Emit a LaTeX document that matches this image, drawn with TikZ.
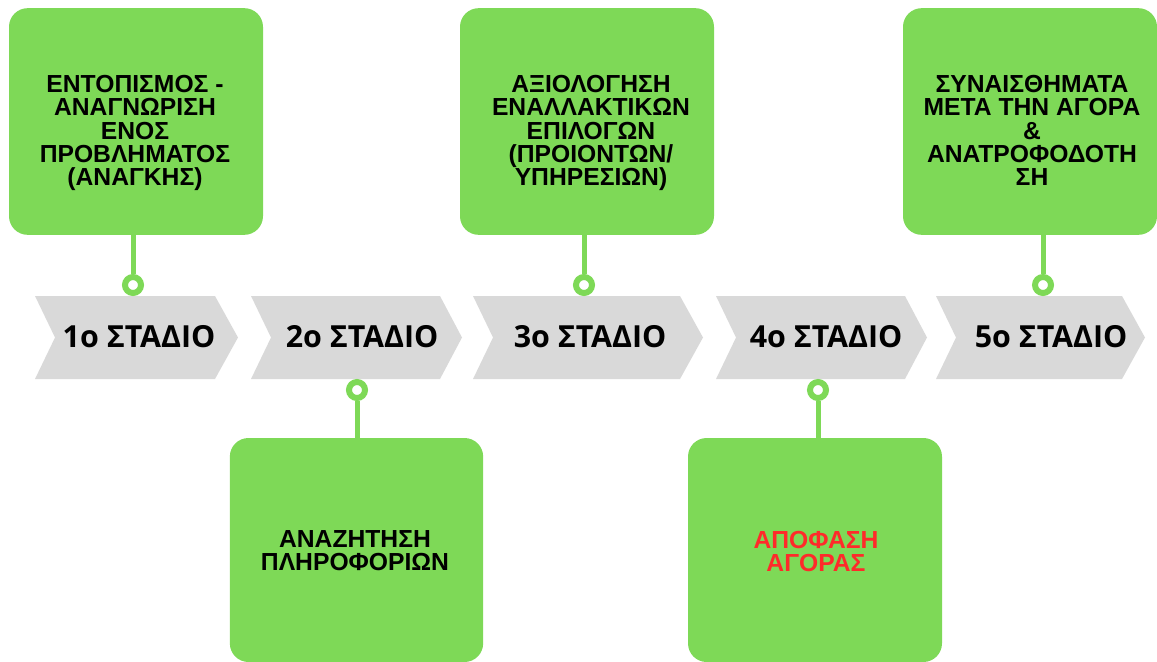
\documentclass[tikz,border=0pt]{standalone}
\usepackage{fontspec}
\setmainfont{Liberation Sans}
\newfontfamily\stagefont{Open Sans}

\definecolor{stagegreen}{HTML}{7ED957}
\definecolor{stagegray}{HTML}{D9D9D9}
\definecolor{stagered}{HTML}{FF2A2A}

\tikzset{
  card/.style={fill=stagegreen, rounded corners=14pt, minimum width=190.5pt, minimum height=170pt, inner sep=0pt},
  cardtext/.style={anchor=north, align=center, inner sep=0.75pt, font=\bfseries\fontsize{18.5}{17.5}\selectfont},
  ring/.style={circle, draw=stagegreen, line width=4.5pt, fill=white, minimum size=12pt, inner sep=0pt},
  stem/.style={draw=stagegreen, line width=3.75pt},
  chevtext/.style={anchor=base, inner sep=0.75pt, font=\stagefont\bfseries\fontsize{22.8}{22.8}\selectfont}
}

\begin{document}
\begin{tikzpicture}[x=0.75pt,y=0.75pt,yscale=-1,xscale=1]
        \useasboundingbox (0,0) rectangle (1157,661);

        %Shape: Chevron [id:stage1]
        \fill[stagegray] (35,296) -- (215,296) -- (238,337.5) -- (215,379) -- (35,379) -- (55,337.5) -- cycle ;
        %Shape: Chevron [id:stage2]
        \fill[stagegray] (251,296) -- (440,296) -- (462,337.5) -- (440,379) -- (251,379) -- (271,337.5) -- cycle ;
        %Shape: Chevron [id:stage3]
        \fill[stagegray] (473,296) -- (680,296) -- (703,337.5) -- (680,379) -- (473,379) -- (493,337.5) -- cycle ;
        %Shape: Chevron [id:stage4]
        \fill[stagegray] (716,296) -- (905,296) -- (927,337.5) -- (905,379) -- (716,379) -- (736,337.5) -- cycle ;
        %Shape: Chevron [id:stage5]
        \fill[stagegray] (936,296) -- (1122,296) -- (1145,337.5) -- (1122,379) -- (936,379) -- (956,337.5) -- cycle ;

        % Text Node
        \node[chevtext] (s1) at (139,347) {1ο ΣΤΑΔΙΟ};
        % Text Node
        \node[chevtext] (s2) at (362,347) {2ο ΣΤΑΔΙΟ};
        % Text Node
        \node[chevtext] (s3) at (590,347) {3ο ΣΤΑΔΙΟ};
        % Text Node
        \node[chevtext] (s4) at (826,347) {4ο ΣΤΑΔΙΟ};
        % Text Node
        \node[chevtext] (s5) at (1051,347) {5ο ΣΤΑΔΙΟ};

        %Shape: Rounded Rect [id:card1]
        \node[card] (card1) at (136,121.5) {};
        %Shape: Rounded Rect [id:card2]
        \node[card, minimum width=190pt, minimum height=168pt] (card2) at (356.5,550) {};
        %Shape: Rounded Rect [id:card3]
        \node[card] (card3) at (587,121.5) {};
        %Shape: Rounded Rect [id:card4]
        \node[card, minimum height=168pt] (card4) at (815,550) {};
        %Shape: Rounded Rect [id:card5]
        \node[card] (card5) at (1030,121.5) {};

        % Text Node
        \node[cardtext] (t1) at (135,74) {ΕΝΤΟΠΙΣΜΟΣ -\\ΑΝΑΓΝΩΡΙΣΗ\\ΕΝΟΣ\\ΠΡΟΒΛΗΜΑΤΟΣ\\(ΑΝΑΓΚΗΣ)};
        % Text Node
        \node[cardtext] (t2) at (355,529) {ΑΝΑΖΗΤΗΣΗ\\ΠΛΗΡΟΦΟΡΙΩΝ};
        % Text Node
        \node[cardtext] (t3) at (591,74) {ΑΞΙΟΛΟΓΗΣΗ\\ΕΝΑΛΛΑΚΤΙΚΩΝ\\ΕΠΙΛΟΓΩΝ\\(ΠΡΟΙΟΝΤΩΝ/\\ΥΠΗΡΕΣΙΩΝ)};
        % Text Node
        \node[cardtext, text=stagered] (t4) at (816,530) {ΑΠΟΦΑΣΗ\\ΑΓΟΡΑΣ};
        % Text Node
        \node[cardtext] (t5) at (1032,74) {ΣΥΝΑΙΣΘΗΜΑΤΑ\\ΜΕΤΑ ΤΗΝ ΑΓΟΡΑ\\\&\\ΑΝΑΤΡΟΦΟΔΟΤΗ\\ΣΗ};

        %Shape: Circle [id:ring1]
        \node[ring] (r1) at (133,285) {};
        %Shape: Circle [id:ring2]
        \node[ring] (r2) at (357,390) {};
        %Shape: Circle [id:ring3]
        \node[ring] (r3) at (584,285) {};
        %Shape: Circle [id:ring4]
        \node[ring] (r4) at (818,390) {};
        %Shape: Circle [id:ring5]
        \node[ring] (r5) at (1043,285) {};

        %Straight Lines
        \draw[stem] (r1) -- (r1 |- card1.south) ;
        \draw[stem] (r2) -- (r2 |- card2.north) ;
        \draw[stem] (r3) -- (r3 |- card3.south) ;
        \draw[stem] (r4) -- (r4 |- card4.north) ;
        \draw[stem] (r5) -- (r5 |- card5.south) ;

\end{tikzpicture}
\end{document}
